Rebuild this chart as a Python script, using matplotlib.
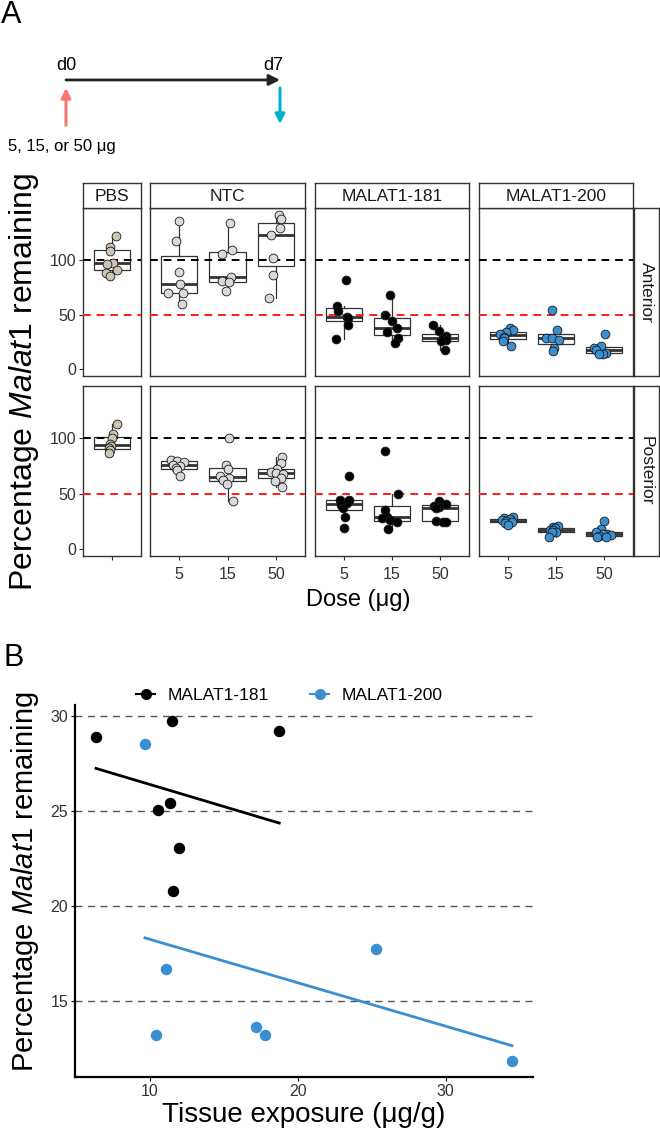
import matplotlib
matplotlib.use('Agg')
import matplotlib.pyplot as plt
import numpy as np
from matplotlib.lines import Line2D

plt.rcParams['font.family'] = ['Liberation Sans', 'DejaVu Sans']
plt.rcParams['mathtext.fontset'] = 'custom'
plt.rcParams['mathtext.rm'] = 'Liberation Sans'
plt.rcParams['mathtext.it'] = 'Liberation Sans:italic'

W, H = 660, 1131

# ---------------- panel A data (percentage Malat1 remaining) ----------------
groups = ["PBS", "NTC", "MALAT1-181", "MALAT1-200"]
regions = ["Anterior", "Posterior"]
doses = ["5", "15", "50"]
group_colors = ["#CDC5B4", "#D9D9D9", "#000000", "#3B8FD0"]

# anterior
ant_pbs = [121.8, 111.2, 107.5, 97.0, 96.0, 90.9, 87.9, 84.8]
ant_ntc_5 = [134.8, 117.3, 88.8, 77.9, 69.7, 69.7, 59.7]
ant_ntc_15 = [133.3, 109.0, 105.2, 83.9, 80.3, 79.7, 71.2]
ant_ntc_50 = [141.0, 137.0, 128.8, 122.7, 101.5, 86.4, 65.2]
ant_181_5 = [81.8, 58.2, 53.0, 47.6, 46.4, 40.9, 27.3]
ant_181_15 = [67.6, 50.0, 44.5, 37.9, 34.2, 28.8, 24.2]
ant_181_50 = [40.3, 34.8, 30.0, 28.8, 26.7, 25.8, 17.3]
ant_200_5 = [37.3, 35.5, 34.0, 32.4, 29.5, 28.8, 25.8, 21.2]
ant_200_15 = [54.5, 35.5, 28.8, 28.2, 26.4, 19.1, 16.7]
ant_200_50 = [32.7, 21.2, 19.5, 17.3, 15.0, 14.2, 13.6]

# posterior
post_pbs = [112.8, 104.0, 100.0, 95.0, 93.0, 91.0, 89.0, 87.0]
post_ntc_5 = [80.0, 79.5, 79.0, 76.0, 75.0, 73.0, 71.0, 66.0]
post_ntc_15 = [100.6, 76.1, 72.0, 66.0, 64.0, 62.0, 58.4, 43.8]
post_ntc_50 = [83.0, 77.3, 72.0, 70.0, 69.0, 68.0, 64.5, 61.5, 56.0]
post_181_5 = [66.0, 44.6, 44.0, 42.0, 40.0, 37.0, 29.4, 19.6]
post_181_15 = [88.4, 49.8, 35.5, 29.4, 28.0, 26.0, 24.8, 18.0]
post_181_50 = [43.1, 41.0, 39.0, 38.0, 37.0, 25.5, 25.0, 24.5]
post_200_5 = [29.0, 28.0, 27.0, 26.0, 25.5, 25.0, 23.5, 22.0]
post_200_15 = [21.0, 20.0, 19.0, 17.5, 17.0, 16.0, 15.5, 11.0]
post_200_50 = [25.4, 18.6, 16.0, 14.0, 13.5, 13.0, 12.0, 11.5, 11.0]

# horizontal jitter of each point
jit_ant_pbs = [0.08, -0.05, -0.05, 0.02, -0.10, 0.10, -0.13, -0.05]
jit_ant_ntc_5 = [-0.01, -0.07, -0.01, 0.02, -0.22, 0.09, 0.06]
jit_ant_ntc_15 = [0.05, 0.10, -0.11, 0.07, -0.11, 0.03, -0.03]
jit_ant_ntc_50 = [0.06, 0.10, 0.08, -0.10, -0.07, -0.07, -0.14]
jit_ant_181_5 = [0.04, -0.15, -0.13, 0.06, 0.09, 0.09, -0.17]
jit_ant_181_15 = [-0.04, -0.14, 0.01, 0.10, -0.10, 0.12, 0.06]
jit_ant_181_50 = [-0.14, -0.02, 0.12, 0.05, 0.12, 0.01, 0.10]
jit_ant_200_5 = [0.04, 0.11, -0.03, -0.17, -0.08, -0.08, -0.11, 0.06]
jit_ant_200_15 = [-0.09, 0.03, -0.20, -0.09, 0.07, -0.04, -0.07]
jit_ant_200_50 = [0.01, -0.07, -0.20, -0.17, 0.03, -0.03, -0.10]
jit_post_pbs = [0.10, 0.02, -0.01, -0.05, -0.03, -0.06, -0.05, -0.06]
jit_post_ntc_5 = [-0.17, -0.05, 0.11, -0.12, 0.02, -0.07, -0.05, 0.02]
jit_post_ntc_15 = [0.03, -0.03, 0.0, -0.16, 0.03, -0.09, -0.02, 0.12]
jit_post_ntc_50 = [0.12, 0.10, 0.03, -0.10, 0.0, 0.14, 0.10, -0.01, 0.12]
jit_post_181_5 = [0.10, -0.08, 0.11, 0.06, -0.05, -0.01, 0.02, 0.01]
jit_post_181_15 = [-0.14, 0.13, -0.14, -0.10, -0.20, -0.04, 0.10, -0.08]
jit_post_181_50 = [-0.03, 0.12, -0.12, -0.02, -0.09, -0.09, 0.06, 0.12]
jit_post_200_5 = [0.11, -0.08, 0.04, -0.13, -0.03, 0.08, -0.06, 0.01]
jit_post_200_15 = [0.05, -0.07, -0.02, -0.12, -0.06, 0.01, -0.09, -0.14]
jit_post_200_50 = [0.0, -0.07, -0.17, 0.07, -0.03, 0.14, -0.10, 0.03, -0.14]

# ---------------- panel B data ----------------
exposure_181 = [6.35, 11.47, 18.74, 10.56, 11.35, 11.98, 11.53]
remaining_181 = [28.9, 29.74, 29.2, 25.03, 25.4, 23.04, 20.76]
exposure_200 = [9.66, 11.08, 10.4, 17.2, 17.79, 25.25, 34.48]
remaining_200 = [28.5, 16.69, 13.21, 13.64, 13.2, 17.75, 11.84]
fit_181_x = [6.35, 18.74]
fit_181_y = [27.24, 24.36]
fit_200_x = [9.66, 34.48]
fit_200_y = [18.31, 12.63]

# timeline
timeline_days = [0, 7]
timeline_labels = ["d0", "d7"]

# table: row -> group -> list of (values, jitter)
panel_data = [
    [[(ant_pbs, jit_ant_pbs)],
     [(ant_ntc_5, jit_ant_ntc_5), (ant_ntc_15, jit_ant_ntc_15), (ant_ntc_50, jit_ant_ntc_50)],
     [(ant_181_5, jit_ant_181_5), (ant_181_15, jit_ant_181_15), (ant_181_50, jit_ant_181_50)],
     [(ant_200_5, jit_ant_200_5), (ant_200_15, jit_ant_200_15), (ant_200_50, jit_ant_200_50)]],
    [[(post_pbs, jit_post_pbs)],
     [(post_ntc_5, jit_post_ntc_5), (post_ntc_15, jit_post_ntc_15), (post_ntc_50, jit_post_ntc_50)],
     [(post_181_5, jit_post_181_5), (post_181_15, jit_post_181_15), (post_181_50, jit_post_181_50)],
     [(post_200_5, jit_post_200_5), (post_200_15, jit_post_200_15), (post_200_50, jit_post_200_50)]],
]

fig = plt.figure(figsize=(W / 100, H / 100), dpi=100)


def px_axes(x0, y0, x1, y1):
    return fig.add_axes([x0 / W, 1 - y1 / H, (x1 - x0) / W, (y1 - y0) / H])


EDGE = "#333333"
col_px = [(83, 141), (150, 305), (315, 469), (479, 633)]
row_px = [(208, 376), (386, 556)]

# ---- timeline ----
ax_t = px_axes(66, 40, 280, 160)
ax_t.set_xlim(0, 7)
ax_t.set_ylim(0, 1)
ax_t.axis('off')
ax_t.annotate('', xy=(timeline_days[1], 0.667), xytext=(timeline_days[0], 0.667),
              arrowprops=dict(arrowstyle='-|>', color='#222222', lw=2, mutation_scale=16,
                              shrinkA=0, shrinkB=0))
ax_t.annotate('', xy=(timeline_days[0], 0.6), xytext=(timeline_days[0], 0.29),
              arrowprops=dict(arrowstyle='-|>', color='#F8766D', lw=2.2, mutation_scale=14,
                              shrinkA=0, shrinkB=0))
ax_t.annotate('', xy=(timeline_days[1], 0.3), xytext=(timeline_days[1], 0.6),
              arrowprops=dict(arrowstyle='-|>', color='#00B0CC', lw=2.2, mutation_scale=14,
                              shrinkA=0, shrinkB=0))
ax_t.text(timeline_days[0], 0.79, timeline_labels[0], ha='center', va='center', fontsize=13)
ax_t.annotate(timeline_labels[1], (timeline_days[1], 0.79), xytext=(-7, 0),
              textcoords='offset pixels', ha='center', va='center', fontsize=13)
ax_t.text(-1.9, 0.11, '5, 15, or 50 \u03bcg', ha='left', va='center', fontsize=12)

fig.text(1 / W, 1 - 15 / H, 'A', fontsize=22, va='center', ha='left')
fig.text(4 / W, 1 - 658 / H, 'B', fontsize=22, va='center', ha='left')

# ---- panel A facets ----
for r, (y0, y1) in enumerate(row_px):
    for c, (x0, x1) in enumerate(col_px):
        ax = px_axes(x0, y0, x1, y1)
        sets = panel_data[r][c]
        pos = np.arange(1, len(sets) + 1)
        ax.boxplot([s[0] for s in sets], positions=pos, widths=0.75, whis=1.5,
                   patch_artist=True, showcaps=False, showfliers=False, zorder=2,
                   boxprops=dict(facecolor='white', edgecolor=EDGE, linewidth=0.9),
                   medianprops=dict(color=EDGE, linewidth=2.0),
                   whiskerprops=dict(color=EDGE, linewidth=0.9))
        ax.axhline(100, color='black', ls=(0, (4, 3)), lw=1.4, zorder=3)
        ax.axhline(50, color='#FF1A1A', ls=(0, (4, 3)), lw=1.4, zorder=3)
        for i, (vals, jit) in enumerate(sets):
            ax.scatter(pos[i] + np.array(jit), vals, s=40, c=group_colors[c],
                       edgecolors='#1a1a1a', linewidths=0.6, zorder=4)
        ax.set_xlim(0.4, len(sets) + 0.6)
        ax.set_ylim(-6, 147)
        for sp in ax.spines.values():
            sp.set_color(EDGE)
            sp.set_linewidth(1.0)
        if c == 0:
            ax.set_yticks([0, 50, 100])
            ax.tick_params(axis='y', labelsize=11.5, labelcolor='#333333', color=EDGE,
                           length=3, width=0.8, pad=2)
        else:
            ax.set_yticks([])
        if r == 1:
            ax.set_xticks(pos)
            ax.set_xticklabels([""] if c == 0 else doses)
            ax.tick_params(axis='x', labelsize=11.5, labelcolor='#333333', color=EDGE,
                           length=3, width=0.8, pad=5)
        else:
            ax.set_xticks([])
        # top strips
        if r == 0:
            st = px_axes(x0, 183, x1, 208)
            st.set_xticks([])
            st.set_yticks([])
            for sp in st.spines.values():
                sp.set_color(EDGE)
                sp.set_linewidth(1.0)
            st.text(0.5, 0.45, groups[c], ha='center', va='center', fontsize=12.5,
                    color='#1a1a1a', transform=st.transAxes)
    rs = px_axes(634, y0, 659, y1)
    rs.set_xticks([])
    rs.set_yticks([])
    for sp in rs.spines.values():
        sp.set_color(EDGE)
        sp.set_linewidth(1.0)
    rs.text(0.5, 0.5, regions[r], rotation=-90, ha='center', va='center', fontsize=12.5,
            color='#1a1a1a', transform=rs.transAxes)

fig.text(24 / W, 1 - 382 / H, 'Percentage $\\mathit{Malat1}$ remaining', rotation=90,
         fontsize=23, ha='center', va='center')
fig.text(358 / W, 1 - 600 / H, 'Dose (\u03bcg)', fontsize=17, ha='center', va='center')

# ---- panel B ----
axb = px_axes(75, 705, 533, 1077)
axb.set_xlim(4.93, 35.9)
axb.set_ylim(10.98, 30.58)
for yv in [15, 20, 25, 30]:
    axb.axhline(yv, color='#555555', ls=(0, (5, 4)), lw=1.0, zorder=1)
axb.plot(fit_181_x, fit_181_y, color='black', lw=2, zorder=2)
axb.plot(fit_200_x, fit_200_y, color='#3B8FD0', lw=2, zorder=2)
axb.scatter(exposure_181, remaining_181, s=68, c='black', zorder=3, linewidths=0)
axb.scatter(exposure_200, remaining_200, s=68, c='#3B8FD0', zorder=3, linewidths=0)
axb.spines['top'].set_visible(False)
axb.spines['right'].set_visible(False)
axb.spines['left'].set_linewidth(1.6)
axb.spines['bottom'].set_linewidth(1.6)
axb.set_xticks([10, 20, 30])
axb.set_yticks([15, 20, 25, 30])
axb.tick_params(labelsize=11.5, labelcolor='#333333', length=3, width=0.8, pad=2)

handles = [Line2D([0], [0], color='black', marker='o', markersize=7, lw=1.5),
           Line2D([0], [0], color='#3B8FD0', marker='o', markersize=7, lw=1.5)]
fig.legend(handles, groups[2:], loc='center left', bbox_to_anchor=(136 / W, 1 - 695 / H),
           ncol=2, frameon=False, fontsize=12.5, handlelength=1.1, handletextpad=0.7,
           columnspacing=2.4, borderpad=0, borderaxespad=0)

fig.text(25 / W, 1 - 882 / H, 'Percentage $\\mathit{Malat1}$ remaining', rotation=90,
         fontsize=21, ha='center', va='center')
fig.text(304 / W, 1 - 1122 / H, 'Tissue exposure (\u03bcg/g)', fontsize=20,
         ha='center', va='baseline')

fig.savefig('out.png', dpi=100)
